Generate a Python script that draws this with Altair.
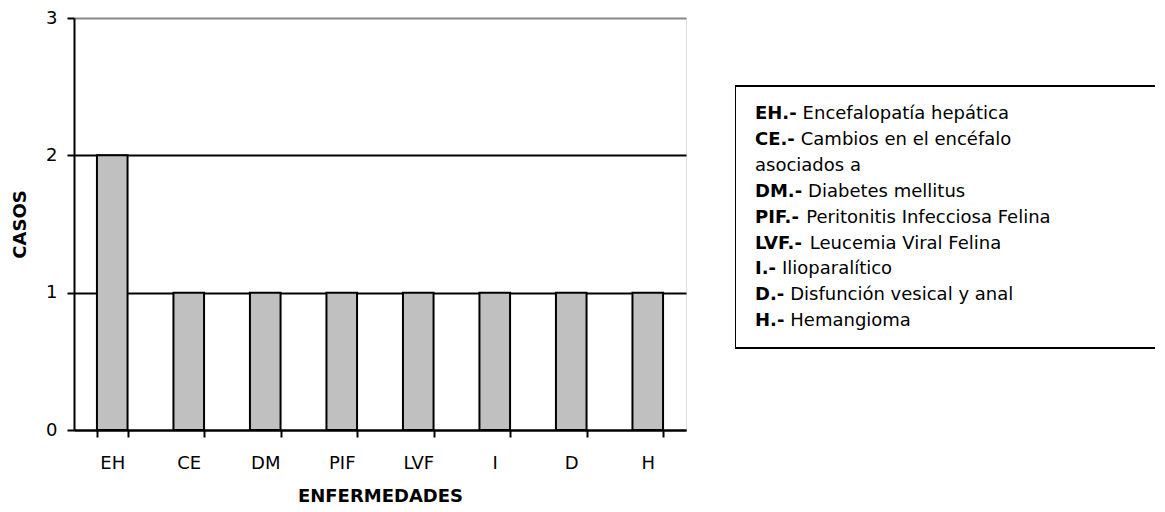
import altair as alt
import pandas as pd

# ---- data ----
categories = ["EH", "CE", "DM", "PIF", "LVF", "I", "D", "H"]
casos = [2, 1, 1, 1, 1, 1, 1, 1]

legend_prefix = ["EH.-", "CE.-", "", "DM.-", "PIF.-", "LVF.-", "I.-", "D.-", "H.-"]
legend_text = ["Encefalopatía hepática", "Cambios en el encéfalo", "asociados a",
               "Diabetes  mellitus", "Peritonitis Infecciosa Felina",
               "Leucemia Viral Felina", "Ilioparalítico",
               "Disfunción vesical y anal", "Hemangioma"]

FONT = "DejaVu Sans"
LEG_FS = 18
W_RIGHT = 420

# approximate advance widths (em) of DejaVu Sans Bold for legend prefixes
bold_w = {"E": .683, "H": .837, "C": .734, "D": .830, "M": .995, "P": .733,
          "I": .372, "F": .62, "L": .60, "V": .70, ".": .380, "-": .415}

def prefix_width(s):
    if not s:
        return 0
    return sum(bold_w.get(c, .7) for c in s) * LEG_FS + 0.33 * LEG_FS

bars = pd.DataFrame({"cat": categories, "casos": casos})

leg = pd.DataFrame({
    "row": list(range(len(legend_text))),
    "prefix": legend_prefix,
    "text": legend_text,
})
leg["x0"] = 20
leg["x1"] = [20 + prefix_width(p) for p in legend_prefix]

bar_chart = alt.Chart(bars).mark_bar(
    color="#c0c0c0", stroke="black", strokeWidth=2
).encode(
    x=alt.X("cat:N", sort=categories,
            scale=alt.Scale(paddingInner=0.6, paddingOuter=0.3),
            axis=alt.Axis(title="ENFERMEDADES", labelAngle=0, tickBand="extent",
                          labelFont=FONT, labelFontSize=18, labelColor="black",
                          titleFont=FONT, titleFontSize=18, titleFontWeight="bold",
                          titleColor="black", labelPadding=17, titlePadding=15,
                          domainColor="black", domainWidth=2, tickColor="black",
                          tickWidth=2, tickSize=7)),
    y=alt.Y("casos:Q", scale=alt.Scale(domain=[0, 3], nice=False),
            axis=alt.Axis(title="CASOS", values=[0, 1, 2, 3], format="d",
                          labelFont=FONT, labelFontSize=18, labelColor="black",
                          titleFont=FONT, titleFontSize=18, titleFontWeight="bold",
                          titleColor="black", labelPadding=10, titlePadding=16,
                          domainColor="black", domainWidth=2, tickColor="black",
                          tickWidth=2, tickSize=7, grid=True,
                          gridColor={"condition": {"test": "datum.value === 3", "value": "#888888"},
                                     "value": "black"},
                          gridWidth=2, gridOpacity=1)),
).properties(width=612, height=412)

# legend panel: rows mapped through a linear scale
yscale = alt.Scale(domain=[12.2, -3.707], nice=False, zero=False)

box = pd.DataFrame({"x": [0, 0, 0], "x2": [0, W_RIGHT + 20, W_RIGHT + 20],
                    "y": [-1.08, -1.08, 9.03], "y2": [9.03, -1.08, 9.03]})

box_rules = alt.Chart(box).mark_rule(color="black", strokeWidth=2, clip=True).encode(
    x=alt.X("x:Q", scale=None), x2="x2:Q",
    y=alt.Y("y:Q", scale=yscale, axis=None), y2="y2:Q",
)

prefix_text = alt.Chart(leg).mark_text(
    align="left", baseline="middle", font=FONT, fontSize=LEG_FS,
    fontWeight="bold", color="black"
).encode(
    x=alt.X("x0:Q", scale=None),
    y=alt.Y("row:Q", scale=yscale, axis=None),
    text="prefix:N",
)

body_text = alt.Chart(leg).mark_text(
    align="left", baseline="middle", font=FONT, fontSize=LEG_FS, color="black"
).encode(
    x=alt.X("x1:Q", scale=None),
    y=alt.Y("row:Q", scale=yscale, axis=None),
    text="text:N",
)

legend_panel = alt.layer(box_rules, prefix_text, body_text).properties(
    width=W_RIGHT, height=412,
    view=alt.ViewBackground(stroke="transparent", strokeWidth=0)
)

chart = alt.hconcat(
    bar_chart,
    legend_panel,
    spacing=48,
).properties(
    padding={"left": 3, "top": 0, "right": 0, "bottom": 0}
).configure_view(stroke="#888888", strokeWidth=2).configure(background="white")

chart.save("out.html", embed_options={"renderer": "svg", "actions": False})
